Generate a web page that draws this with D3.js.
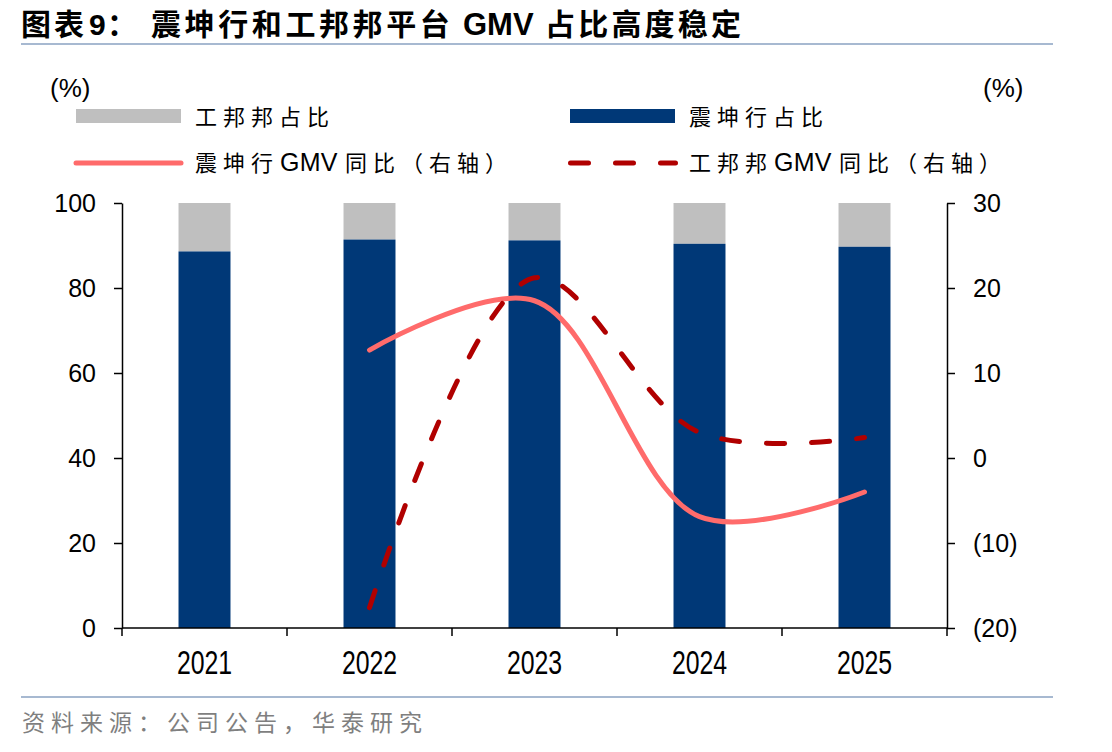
<!DOCTYPE html>
<html><head><meta charset="utf-8">
<script src="https://cdn.jsdelivr.net/npm/d3@7"></script>
<style>
body{margin:0;background:#fff;}
svg{display:block;}
</style></head>
<body>
<svg id="chart" width="1112" height="752"></svg>
<script>
const years = ["2021","2022","2023","2024","2025"];
const zkhShare = [88.6, 91.4, 91.2, 90.4, 89.7];          // 震坤行占比
const gbbShare = zkhShare.map(v => 100 - v);               // 工邦邦占比 (remainder)
const lineYears = ["2022","2023","2024","2025"];
const zkhGrowth = [12.7, 18.5, -6.9, -4.0];                 // 震坤行GMV同比
const gbbGrowth = [-17.6, 21.2, 3.0, 2.4];                  // 工邦邦GMV同比
const leftTicks = [0,20,40,60,80,100];
const rightTicks = [-20,-10,0,10,20,30];

const svg = d3.select("#chart");
const CJK = "'Noto Sans CJK SC', sans-serif";
const LAT = "'Liberation Sans', Arial, sans-serif";
const C_DARK = "#003877", C_GRAY = "#BFBFBF", C_PINK = "#FF6B6B", C_RED = "#B00000";

const L = 122, R = 947, T = 203, B = 628;
const x = d3.scaleBand().domain(years).range([L, R]).padding(0);
const bw = x.bandwidth() * 0.315;
const yL = d3.scaleLinear().domain([0,100]).range([B, T]);
const yR = d3.scaleLinear().domain([-20,30]).range([B, T]);

// Title
const title = svg.append("text").attr("y", 35).attr("font-weight", 700).attr("fill", "#000");
title.append("tspan").attr("x", 21).attr("font-family", CJK).attr("font-size", 30).attr("letter-spacing", 3).text("图表");
title.append("tspan").attr("x", 89).attr("font-family", LAT).attr("font-size", 30).text("9");
title.append("tspan").attr("x", 107).attr("font-family", CJK).attr("font-size", 30).text("：");
title.append("tspan").attr("x", 151).attr("font-family", CJK).attr("font-size", 30).attr("letter-spacing", 3.6).text("震坤行和工邦邦平台");
title.append("tspan").attr("x", 463).attr("font-family", LAT).attr("font-size", 31).text("GMV");
title.append("tspan").attr("x", 545).attr("font-family", CJK).attr("font-size", 30).attr("letter-spacing", 3.2).text("占比高度稳定");
svg.append("line").attr("x1", 21).attr("x2", 1053).attr("y1", 44).attr("y2", 44).attr("stroke", "#A7B9D1").attr("stroke-width", 2);

// Footer
svg.append("line").attr("x1", 21).attr("x2", 1053).attr("y1", 697).attr("y2", 697).attr("stroke", "#A7B9D1").attr("stroke-width", 2);
svg.append("text").attr("x", 22).attr("y", 731).attr("font-family", CJK).attr("font-size", 23).attr("letter-spacing", 6)
  .attr("fill", "#7F7F7F").text("资料来源：公司公告，华泰研究");

// unit labels
svg.append("text").attr("x", 50).attr("y", 97).attr("font-family", LAT).attr("font-size", 26).text("(%)");
svg.append("text").attr("x", 983).attr("y", 97).attr("font-family", LAT).attr("font-size", 26).text("(%)");

// Bars
const g = svg.append("g");
g.selectAll("rect.gbb").data(years).enter().append("rect")
  .attr("x", d => x(d) + (x.bandwidth() - bw) / 2).attr("width", bw)
  .attr("y", d => yL(100)).attr("height", (d,i) => yL(zkhShare[i]) - yL(100))
  .attr("fill", C_GRAY);
g.selectAll("rect.zkh").data(years).enter().append("rect")
  .attr("x", d => x(d) + (x.bandwidth() - bw) / 2).attr("width", bw)
  .attr("y", (d,i) => yL(zkhShare[i])).attr("height", (d,i) => yL(0) - yL(zkhShare[i]))
  .attr("fill", C_DARK);

// Lines
const curve = d3.curveCatmullRom.alpha(0.5);
const lineGen = vals => d3.line().curve(curve)
  .x((d,i) => x(lineYears[i]) + x.bandwidth()/2).y(d => yR(d))(vals);
svg.append("path").attr("d", lineGen(zkhGrowth)).attr("fill", "none")
  .attr("stroke", C_PINK).attr("stroke-width", 5).attr("stroke-linecap", "round");
svg.append("path").attr("d", lineGen(gbbGrowth)).attr("fill", "none")
  .attr("stroke", C_RED).attr("stroke-width", 5).attr("stroke-linecap", "round")
  .attr("stroke-dasharray", "18,27");

// Axes
const axisStyle = sel => {
  sel.selectAll("path, line").attr("stroke", "#000").attr("stroke-width", 1.5);
  sel.selectAll("text").attr("font-family", LAT).attr("font-size", 25).attr("fill", "#000");
};
svg.append("g").attr("transform", `translate(${L},0)`)
  .call(d3.axisLeft(yL).tickValues(leftTicks).tickSize(8).tickSizeOuter(0).tickPadding(18))
  .call(axisStyle);
const fmtR = v => v < 0 ? `(${Math.abs(v)})` : `${v}`;
svg.append("g").attr("transform", `translate(${R},0)`)
  .call(d3.axisRight(yR).tickValues(rightTicks).tickFormat(fmtR).tickSize(8).tickSizeOuter(0).tickPadding(18))
  .call(axisStyle);

// X axis: line, ticks at band boundaries, labels at centers
const xg = svg.append("g");
xg.append("line").attr("x1", L).attr("x2", R).attr("y1", B).attr("y2", B).attr("stroke", "#000").attr("stroke-width", 1.5);
const bounds = years.map(d => x(d)).concat([R]);
xg.selectAll("line.tk").data(bounds).enter().append("line")
  .attr("x1", d => d).attr("x2", d => d).attr("y1", B).attr("y2", B + 8)
  .attr("stroke", "#000").attr("stroke-width", 1.5);
xg.selectAll("text").data(years).enter().append("text")
  .attr("transform", d => `translate(${x(d) + x.bandwidth()/2},674) scale(0.92,1.22)`)
  .attr("text-anchor", "middle").attr("font-family", LAT).attr("font-size", 27).text(d => d);

// Legend
const lg = svg.append("g");
lg.append("rect").attr("x", 76).attr("y", 109).attr("width", 105).attr("height", 14).attr("fill", C_GRAY);
lg.append("rect").attr("x", 570).attr("y", 109).attr("width", 105).attr("height", 14).attr("fill", C_DARK);
lg.append("line").attr("x1", 76).attr("x2", 181).attr("y1", 163).attr("y2", 163)
  .attr("stroke", C_PINK).attr("stroke-width", 5).attr("stroke-linecap", "round");
lg.append("line").attr("x1", 570.5).attr("x2", 675.5).attr("y1", 163).attr("y2", 163)
  .attr("stroke", C_RED).attr("stroke-width", 5).attr("stroke-linecap", "round").attr("stroke-dasharray", "18,27");
const legText = (xx, yy, parts) => {
  const t = lg.append("text").attr("y", yy).attr("fill", "#000");
  parts.forEach(p => {
    t.append("tspan").attr("x", xx + p.dx)
      .attr("font-family", p.lat ? LAT : CJK).attr("font-size", p.lat ? 25 : 22)
      .attr("letter-spacing", p.lat ? 0.3 : 6).text(p.s);
  });
};
legText(195, 125, [{dx:0, s:"工邦邦占比"}]);
legText(689, 125, [{dx:0, s:"震坤行占比"}]);
legText(195, 171, [{dx:0, s:"震坤行"}, {dx:85, s:"GMV", lat:true}, {dx:150, s:"同比（右轴）"}]);
legText(689, 171, [{dx:0, s:"工邦邦"}, {dx:85, s:"GMV", lat:true}, {dx:150, s:"同比（右轴）"}]);
</script>
</body></html>
